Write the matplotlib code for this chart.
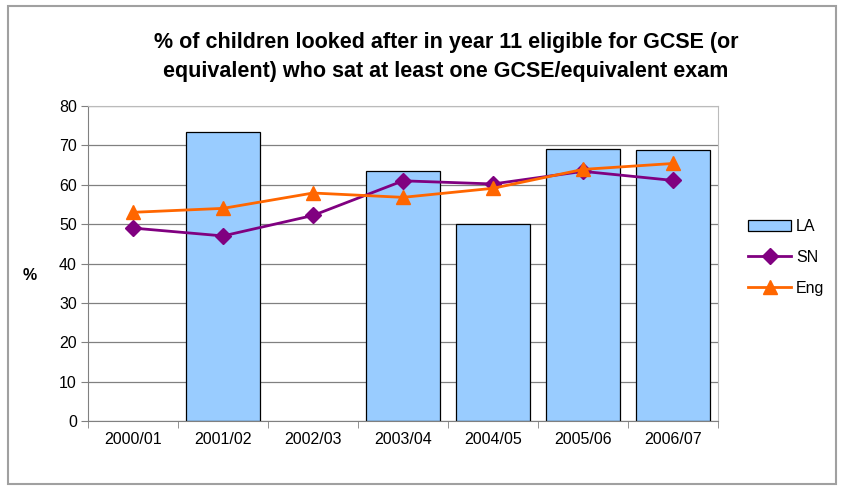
import numpy as np
import matplotlib.pyplot as plt
from matplotlib.patches import Rectangle

plt.rcParams['font.family'] = ['Liberation Sans', 'DejaVu Sans']

years = ['2000/01', '2001/02', '2002/03', '2003/04', '2004/05', '2005/06', '2006/07']
la = [np.nan, 73.3, np.nan, 63.6, 50.0, 69.1, 68.7]
sn = [49.0, 47.0, 52.2, 61.0, 60.2, 63.4, 61.1]
eng = [53.0, 54.0, 57.9, 56.8, 59.1, 63.9, 65.4]

fig = plt.figure(figsize=(8.42, 4.88), dpi=100)
ax = fig.add_axes([88/842, 1 - 421/488, 630/842, 315/488])

x = np.arange(len(years))
h_la = ax.bar(x, la, width=0.83, color='#99CCFF', edgecolor='black', linewidth=0.9, label='LA', zorder=2)
h_sn, = ax.plot(x, sn, color='#800080', marker='D', markersize=8, linewidth=2, label='SN', zorder=3)
h_eng, = ax.plot(x, eng, color='#FF6600', marker='^', markersize=10, linewidth=2, label='Eng', zorder=4)

ax.set_xlim(-0.5, len(years) - 0.5)
ax.set_ylim(0, 80)
ax.set_yticks(range(0, 81, 10))
ax.set_xticks(x)
ax.set_xticklabels(years)
ax.set_xticks(np.arange(-0.5, len(years)), minor=True)
ax.tick_params(axis='x', which='major', length=0, pad=8, labelsize=11.5)
ax.tick_params(axis='x', which='minor', length=5, color='#808080')
ax.tick_params(axis='y', length=5, color='#808080', labelsize=11.5, pad=3)
ax.grid(axis='y', color='#808080', linewidth=0.9, zorder=0)
ax.set_axisbelow(True)
for side in ['top', 'right']:
    ax.spines[side].set_color('#BBBBBB')
for side in ['left', 'bottom']:
    ax.spines[side].set_color('#808080')

fig.text(30/842, 1 - 276/488, '%', ha='center', va='center', fontsize=11.5, fontweight='bold')

fig.text(446/842, 1 - 57/488, '% of children looked after in year 11 eligible for GCSE (or\n'
         'equivalent) who sat at least one GCSE/equivalent exam',
         ha='center', va='center', fontsize=15.5, fontweight='bold', linespacing=1.55)

ax.legend([h_la, h_sn, h_eng], ['LA', 'SN', 'Eng'], loc='center left',
          bbox_to_anchor=(1.025, 0.52), frameon=False,
          fontsize=11.5, handlelength=2.7, labelspacing=1.0, handletextpad=0.3)

fig.patches.append(Rectangle((8/842, 4/488), 828/842, 478/488, transform=fig.transFigure,
                             fill=False, edgecolor='#A0A0A0', linewidth=1.5))

fig.savefig('out.png', dpi=100)
